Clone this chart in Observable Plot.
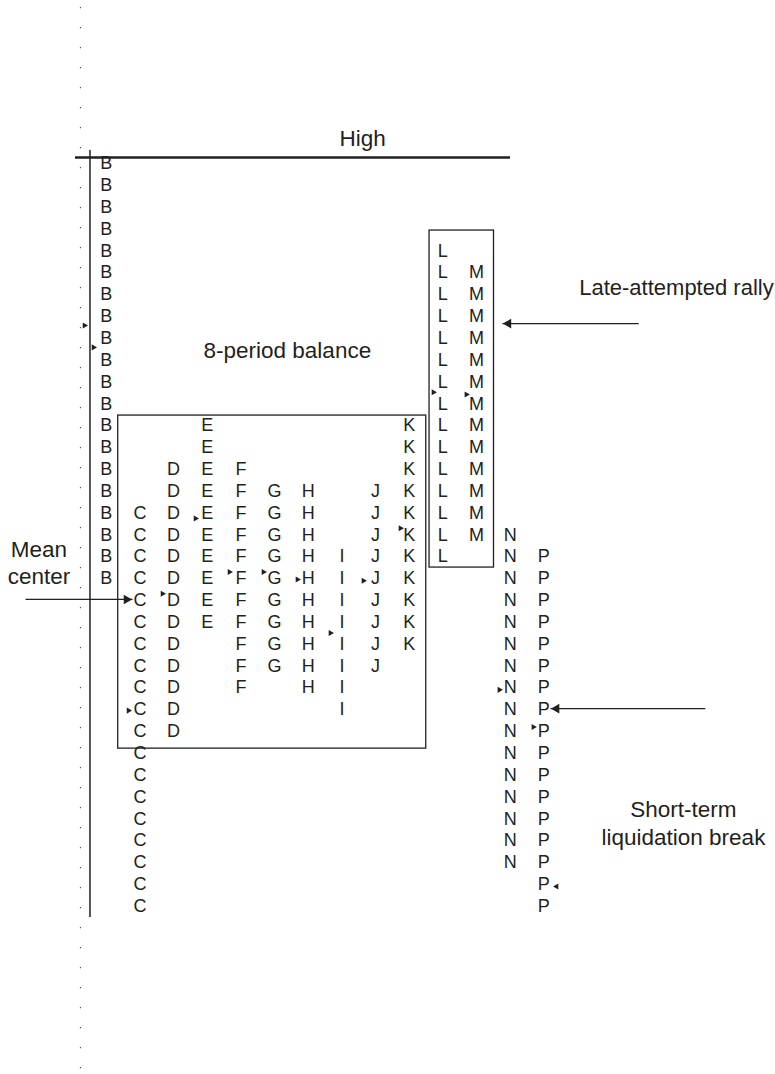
<!DOCTYPE html>
<html><head><meta charset="utf-8">
<script src="https://cdn.jsdelivr.net/npm/d3@7"></script>
<script src="https://cdn.jsdelivr.net/npm/@observablehq/plot@0.6"></script>
<style>html,body{margin:0;padding:0;background:#fff}#chart svg{display:block}</style>
</head><body><div id="chart"></div>
<script>
// TPO periods (columns) and the price rows (0 = top row) each period traded
const periods  = ["B","C","D","E","F","G","H","I","J","K","L","M","N","P"];
const firstRow = [0, 16, 14, 12, 14, 15, 15, 18, 15, 12, 4, 5, 17, 18];
const lastRow  = [19, 34, 26, 21, 24, 23, 24, 25, 23, 22, 18, 17, 32, 34];

// small triangle markers (column units, row units, direction)
const markerCol = [-0.648, -0.38, 0.66, 1.67, 2.65, 3.66, 4.67, 5.68, 6.66, 7.64, 8.74, 9.72, 10.70, 11.68, 12.69, 13.38];
const markerRow = [7.42, 8.42, 25.05, 19.7, 16.25, 18.7, 18.7, 19.05, 21.5, 19.1, 16.7, 10.47, 10.58, 24.1, 25.8, 33.1];
const markerDir = ["r","r","r","r","r","r","r","r","r","r","r","r","r","r","r","l"];

// annotation labels
const labelText = ["High", "8-period balance", "Mean\ncenter", "Short-term\nliquidation break"];
const labelCol  = [7.62, 5.38, -2.0, 17.15];
const labelRow  = [-1.19, 8.5, 18.23, 30.15];
const rallyText = ["Late-attempted rally"];
const rallyCol  = [19.83];
const rallyRow  = [5.68];

// boxes: 8-period balance area and late rally
const boxX1 = [0.354, 9.605], boxX2 = [9.507, 11.52];
const boxY1 = [11.54, 3.07],  boxY2 = [26.79, 18.5];

// arrows (from x1 to tip x2 at row y)
const arrowX1 = [-2.40, 15.82, 17.8];
const arrowX2 = [0.78, 11.77, 13.2];
const arrowY  = [19.96, 7.33, 24.96];

// reference lines
const highLine = [{y: -0.275, x1: -0.915, x2: 12.01}];
const axisLine = [{x: -0.485, y1: -0.6, y2: 34.52}];
const tickColumn = [{x: -0.767, y1: -7.14, y2: 41.5}];

const tpo = periods.flatMap((p, i) => d3.range(firstRow[i], lastRow[i] + 1).map(r => ({period: p, col: i, row: r})));
const markers = markerCol.map((c, i) => ({col: c, row: markerRow[i], dir: markerDir[i]}));
const labels = labelText.map((t, i) => ({text: t, col: labelCol[i], row: labelRow[i]}));
const rally = rallyText.map((t, i) => ({text: t, col: rallyCol[i], row: rallyRow[i]}));
const boxes = boxX1.map((v, i) => ({x1: v, x2: boxX2[i], y1: boxY1[i], y2: boxY2[i]}));
const arrows = arrowX1.map((v, i) => ({x1: v, x2: arrowX2[i], y: arrowY[i], dir: arrowX2[i] > v ? "r" : "l"}));

const ink = "#231f20";
const chart = Plot.plot({
  width: 775, height: 1074, margin: 0,
  x: {domain: [0, 13], range: [105.8, 543.3], axis: null},
  y: {domain: [0, 34], range: [163, 905.6], axis: null},
  style: {fontFamily: "'Liberation Sans', Arial, Helvetica, sans-serif", background: "#fff"},
  marks: [
    Plot.ruleX(tickColumn, {x: "x", y1: "y1", y2: "y2", stroke: "#555", strokeWidth: 1.2, strokeDasharray: "1.2 18.8"}),
    Plot.ruleX(axisLine, {x: "x", y1: "y1", y2: "y2", stroke: ink, strokeWidth: 1.5}),
    Plot.ruleY(highLine, {y: "y", x1: "x1", x2: "x2", stroke: ink, strokeWidth: 2.6}),
    Plot.rect(boxes, {x1: "x1", x2: "x2", y1: "y1", y2: "y2", fill: "none", stroke: ink, strokeWidth: 1.3}),
    Plot.text(tpo, {x: "col", y: "row", text: "period", fontSize: 18, fill: ink}),
    Plot.dot(markers.filter(d => d.dir === "r"), {x: "col", y: "row", symbol: "triangle2", r: 2.9, rotate: 90, fill: ink, stroke: "none"}),
    Plot.dot(markers.filter(d => d.dir === "l"), {x: "col", y: "row", symbol: "triangle2", r: 2.9, rotate: -90, fill: ink, stroke: "none"}),
    Plot.link(arrows, {x1: "x1", x2: "x2", y1: "y", y2: "y", stroke: ink, strokeWidth: 1.3}),
    Plot.dot(arrows.filter(d => d.dir === "r"), {x: "x2", y: "y", symbol: "triangle2", r: 4.6, rotate: 90, dx: -6, fill: ink, stroke: "none"}),
    Plot.dot(arrows.filter(d => d.dir === "l"), {x: "x2", y: "y", symbol: "triangle2", r: 4.6, rotate: -90, dx: 6, fill: ink, stroke: "none"}),
    Plot.text(labels, {x: "col", y: "row", text: "text", fontSize: 22.5, lineHeight: 1.22, fill: ink}),
    Plot.text(rally, {x: "col", y: "row", text: "text", fontSize: 22, textAnchor: "end", fill: ink})
  ]
});
document.getElementById("chart").appendChild(chart);
</script>
</body></html>
